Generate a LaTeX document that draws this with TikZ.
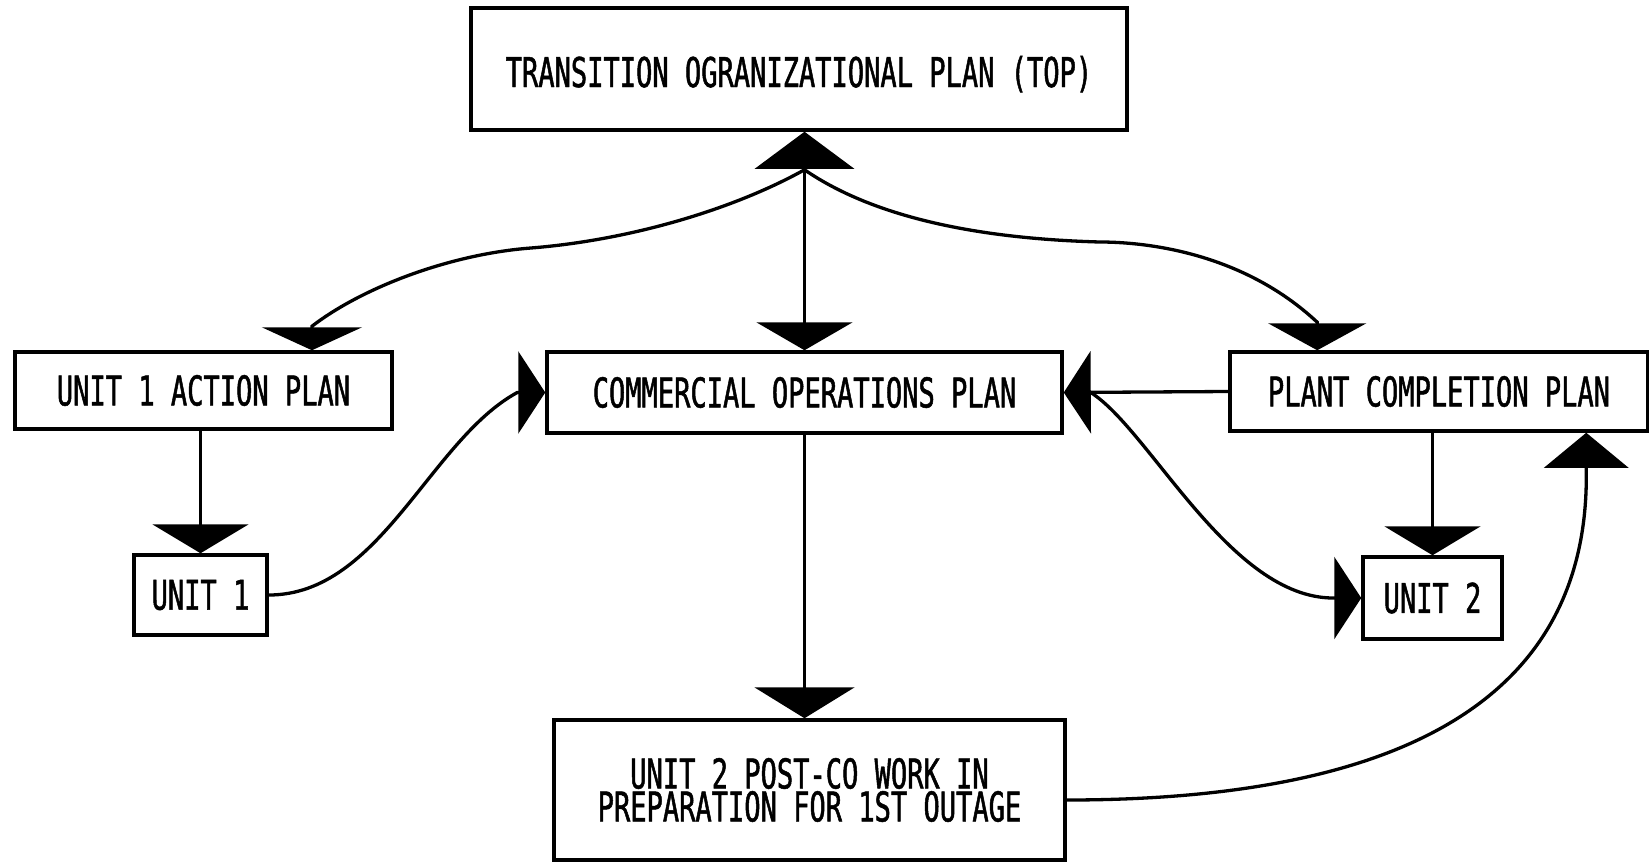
\documentclass[tikz,border=0pt]{standalone}
\usepackage{fontspec}
\usetikzlibrary{arrows.meta,calc}
\newfontfamily\plotfont[FakeStretch=0.66,FakeBold=1.2]{DejaVu Sans Mono}

\tikzset{
  plan/.style={draw, line width=3.5pt, inner sep=0pt, align=center,
    font=\plotfont\fontsize{41}{33}\selectfont},
  link/.style={line width=3.3pt},
  downtip/.style={-{Triangle[width=96pt,length=29pt]}},
  sidetip/.style={-{Triangle[width=82pt,length=27pt]}},
  uptip/.style={-{Triangle[width=84pt,length=35pt]}},
}

\begin{document}
\begin{tikzpicture}[x=1pt, y=-1pt]
\useasboundingbox (0,0) rectangle (1649,865);

% plan boxes
\node[plan, minimum width=656, minimum height=122, text height=36pt, text depth=0pt]
  (top) at (799,69) {TRANSITION OGRANIZATIONAL PLAN (TOP)};
\node[plan, minimum width=377, minimum height=77]  (u1ap)  at (203.5,390.5) {UNIT 1 ACTION PLAN};
\node[plan, minimum width=515, minimum height=81]  (cop)   at (804.5,392.5) {COMMERCIAL OPERATIONS PLAN};
\node[plan, minimum width=418, minimum height=79]  (pcp)   at (1439,391.5)  {PLANT COMPLETION PLAN};
\node[plan, minimum width=133, minimum height=80]  (unit1) at (200.5,595)   {UNIT 1};
\node[plan, minimum width=139, minimum height=82]  (unit2) at (1432.5,598)  {UNIT 2};
\node[plan, minimum width=511, minimum height=140] (post)  at (809.5,790)   {UNIT 2 POST-CO WORK IN\\PREPARATION FOR 1ST OUTAGE};

% helper points on the box edges
\coordinate (hub) at ($(top.south -| cop.north)+(0,38)$);
\coordinate (a1)  at ($(u1ap.north west)!0.785!(u1ap.north east)$);
\coordinate (a2)  at ($(pcp.north west)+(89,0)$);
\coordinate (a3)  at ($(pcp.south west)+(358,0)$);
\coordinate (cb)  at ($(cop.east)+(27,0)$);

% TOP <-> commercial operations
\draw[link, {Triangle[width=99pt,length=37pt]}-{Triangle[width=96pt,length=28pt]}]
  (top.south -| cop.north) -- (cop.north);

% TOP fans out to the two side plans
\draw[link, -{Triangle[width=100pt,length=23pt]}]
  (hub) .. controls (734,209) and (631,240) .. (531,248)
        .. controls (451,254) and (363,287) .. ($(a1)+(0,-24)$) -- (a1);
\draw[link, -{Triangle[width=98pt,length=27pt]}]
  (hub) .. controls (879,221) and (990,239) .. (1100,242)
        .. controls (1140,242) and (1240,250) .. ($(a2)+(0,-28)$) -- (a2);

% unit 1 branch
\draw[link, downtip] (unit1.north |- u1ap.south) -- (unit1.north);
\draw[link, sidetip]
  (unit1.east) .. controls (380,595) and (430,440) .. ($(cop.west)+(-28,0)$) -- (cop.west);

% plant completion branch
\draw[link, sidetip] (pcp.west) -- (cop.east);
\draw[link, sidetip]
  (cb) .. controls (1150,430) and (1230,598) .. ($(unit2.west)+(-28,0)$) -- (unit2.west);
\draw[link, downtip] (unit2.north |- pcp.south) -- (unit2.north);

% post-CO work
\draw[link, -{Triangle[width=100pt,length=31pt]}] (cop.south) -- (cop.south |- post.north);
\draw[link, uptip]
  ($(post.east)+(0,10)$) .. controls (1400,800) and (1590,700) .. ($(a3)+(0,37)$) -- (a3);
\end{tikzpicture}
\end{document}
